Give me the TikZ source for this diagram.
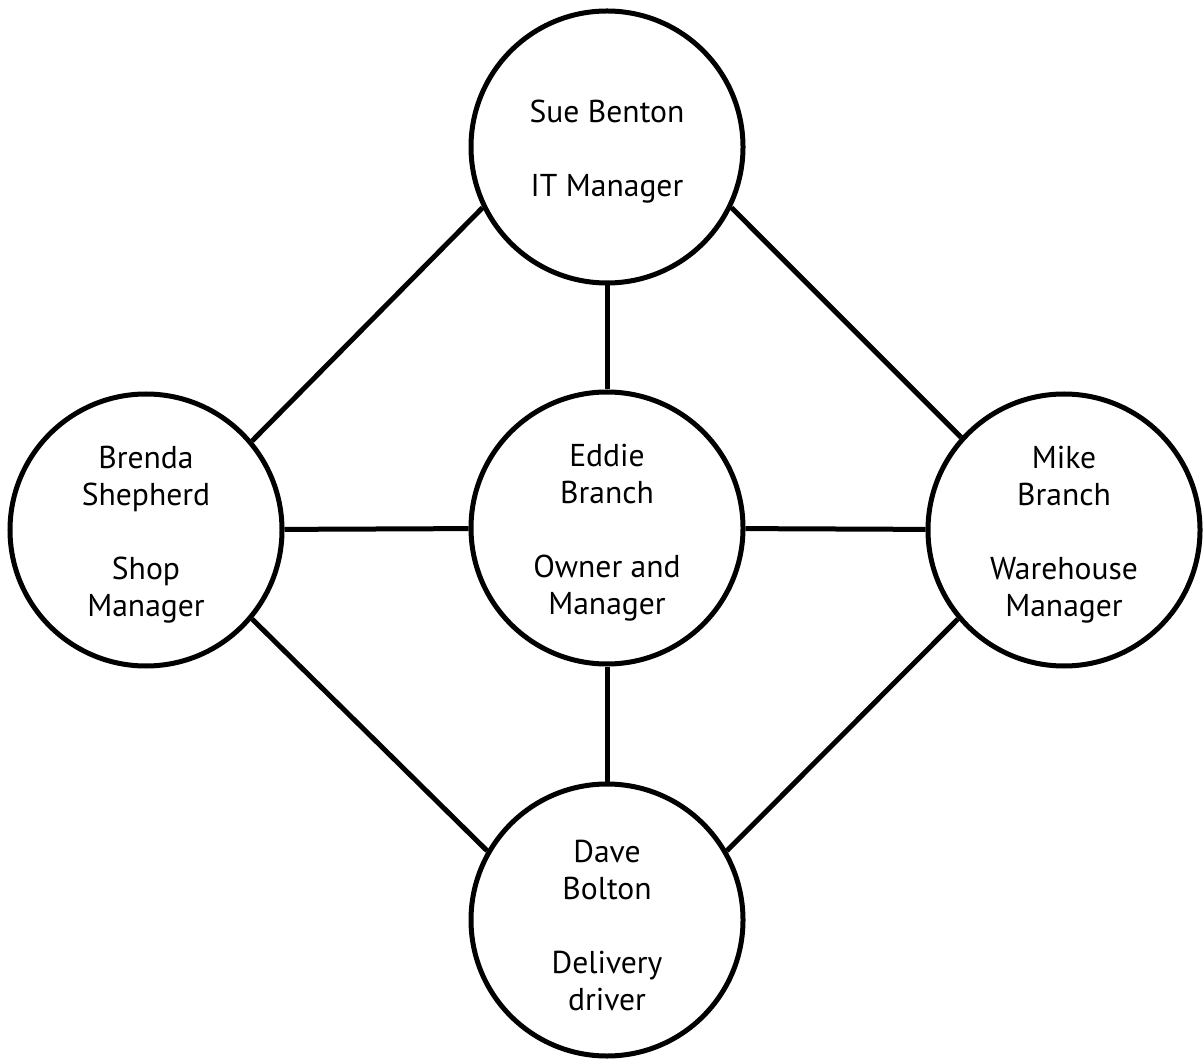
\documentclass[tikz,border=0pt]{standalone}
\usepackage{fontspec}
\setmainfont{PT Sans}
\begin{document}
\begin{tikzpicture}[x=0.5pt, y=0.5pt,
        person/.style={circle, draw, line width=2.5pt, minimum size=136pt, inner sep=0pt, label={[yshift=-2.5pt]center:#1}},
        every label/.style={align=center, font=\fontsize{15.8pt}{18.5pt}\selectfont},
        link/.style={line width=2.5pt}]
        \useasboundingbox (0, 0) rectangle (1203, 1061);
        % \draw (0,0) grid (1203, 1061);
        \node [person={Sue Benton\\[18.5pt]IT Manager}, name=sue] at (607, 914) {};
        \node [person={Eddie\\Branch\\[18.5pt]Owner and\\Manager}, name=eddie] at (607, 533) {};
        \node [person={Brenda\\Shepherd\\[18.5pt]Shop\\Manager}, name=brenda] at (146, 531) {};
        \node [person={Mike\\Branch\\[18.5pt]Warehouse\\Manager}, name=mike] at (1064, 531) {};
        \node [person={Dave\\Bolton\\[18.5pt]Delivery\\driver}, name=dave] at (607, 141) {};
        \draw [link] (sue) -- (eddie);
        \draw [link] (eddie) -- (dave);
        \draw [link] (brenda) -- (eddie);
        \draw [link] (eddie) -- (mike);
        \draw [link] (sue.206) -- (brenda.40);
        \draw [link] (sue.334) -- (mike.138);
        \draw [link] (brenda.320) -- (dave.150);
        \draw [link] (mike.220) -- (dave.30);
    \end{tikzpicture}
\end{document}
